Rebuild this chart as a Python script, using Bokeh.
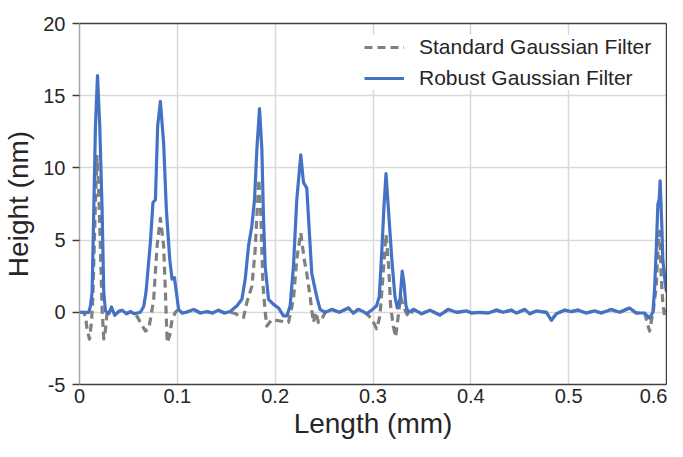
from bokeh.plotting import figure
from bokeh.models import LinearAxis, FixedTicker, Legend, LegendItem, Range1d
from bokeh.embed import file_html
from bokeh.resources import INLINE

# ---- data ----
x_ticks = [0, 0.1, 0.2, 0.3, 0.4, 0.5, 0.6]
x_tick_labels = ["0", "0.1", "0.2", "0.3", "0.4", "0.5", "0.6"]
y_ticks = [-5, 0, 5, 10, 15, 20]
y_tick_labels = ["-5", "0", "5", "10", "15", "20"]

robust_x = [0, .004, .0095, .0112, .0129, .0146, .0163, .0184, .0207, .0231, .0248, .0265, .03, .0327, .036, .04,
            .0435, .048, .052, .056, .059, .0622, .0656, .068, .0724, .0751, .0776, .0799, .0827, .086, .0888, .0922,
            .0946, .097, .099, .1013, .105, .109, .1167, .1235, .13, .136, .142, .148, .154, .161, .166, .1694, .1728,
            .1762, .1789, .1813, .184, .1864, .188, .1898, .1932, .1983, .2034, .2085, .212, .2153, .2187, .2221, .2262,
            .2289, .2323, .235, .2374, .2408, .2432, .2459, .251, .258, .2657, .2748, .28, .285, .29, .2935, .2987,
            .3037, .3064, .3089, .3112, .3133, .3156, .319, .3224, .3248, .3276, .3299, .3316, .3337, .336, .3415,
            .3497, .3582, .3684, .3769, .3854, .3956, .4007, .409, .4177, .4262, .433, .4415, .4466, .4551, .4602,
            .467, .4772, .4823, .4874, .4959, .5027, .5095, .518, .5265, .5333, .5435, .552, .5622, .569, .5776,
            .5827, .5861, .5878, .5895, .5912, .5925, .5935, .5952, .5962, .5986, .6]
robust_y = [0, 0, 0, .45, 1.4, 7.1, 12.9, 16.4, 12.9, 7.1, 1.4, .1, -.1, .35, -.2, .05,
            .15, -.1, .05, -.1, -.05, 0, .4, 1.4, 4.8, 7.6, 7.8, 12.9, 14.6, 11.7, 7.1, 3.7,
            2.3, 2.4, 1.4, .2, -.05, 0, .2, -.05, .05, -.05, .15, -.05, .05, .45, .9, 2.3, 4.6,
            6.0, 7.8, 11.3, 14.1, 11.3, 6.7, 3.2, .9, .55, .3, -.25, -.25, .45, 3.2, 7.8, 10.9,
            9.0, 8.6, 5.5, 2.7, 1.6, .9, .2, 0, .2, 0, .3, -.05, .2, .05, -.1, .15,
            .45, 1.1, 4.1, 7.3, 9.6, 7.3, 3.9, 1.1, .3, .9, 2.85, 2.05, .45, 0, .2,
            -.1, .15, -.2, .2, 0, .1, -.05, 0, -.05, .15, 0, .15, -.05, .2, -.1,
            .1, 0, -.55, -.1, .15, .05, .15, -.05, .1, -.05, .2, 0, .3, -.05, -.05,
            -.4, 0, 1.6, 4.3, 7.5, 7.8, 9.1, 6.0, 3.7, 2.05, 1.4]

standard_x = [0, .004, .0061, .0078, .0102, .0122, .0136, .0146, .0165, .018, .0195, .0207, .0231, .0248, .0265, .0282,
              .03, .0327, .036, .04, .0435, .048, .052, .056, .059, .0622, .0673, .0707, .0735, .0758, .0793, .0827,
              .086, .0878, .0896, .0922, .0946, .098, .1013, .105, .109, .1167, .1235, .13, .136, .142, .148, .154,
              .16, .1643, .1677, .1711, .1762, .1796, .1813, .1833, .1854, .1874, .1898, .1915, .1966, .2051, .2136,
              .2187, .2221, .2262, .2296, .2323, .2357, .239, .2418, .2442, .2476, .251, .258, .2657, .2748, .28,
              .285, .29, .2935, .2987, .3037, .3071, .3105, .3133, .316, .318, .3207, .3231, .3258, .3282, .3309,
              .3343, .337, .3415, .3497, .3582, .3684, .3769, .3854, .3956, .4007, .409, .4177, .4262, .433, .4415,
              .4466, .4551, .4602, .467, .4772, .4823, .4874, .4959, .5027, .5095, .518, .5265, .5333, .5435, .552,
              .5622, .569, .5776, .5827, .5843, .5867, .5895, .5921, .5929, .5946, .5962, .598, .6]
standard_y = [0, 0, -.25, -1.2, -1.85, -.7, .9, 3.5, 8.0, 10.8, 8.5, 6.0, .2, -1.85, -1.2, 0,
              -.1, .35, -.2, .05, .15, -.1, .05, -.1, -.3, -.7, -1.3, -1.15, -.1, .9, 4.6, 6.5,
              4.6, 1.4, -2.1, -1.6, -.5, 0, .2, -.05, 0, .2, -.05, .05, -.05, .15, -.05, 0,
              -.1, -.35, -.35, .7, 1.8, 4.35, 6.65, 9.2, 6.65, 2.05, 0, -.95, -.5, -.6, -.7,
              .9, 3.7, 5.5, 3.7, 2.7, 1.1, -.7, 0, -.7, -.5, 0, .2, 0, .3, -.05,
              .2, .05, -.1, -.45, -1.15, -.25, 2.75, 5.4, 3.2, .45, -.95, -1.7, -.25, 1.1, .45,
              -.1, -.3, .2, -.1, .15, -.2, .2, 0, .1, -.05, 0, -.05, .15, 0, .15,
              -.05, .2, -.1, .1, 0, -.55, -.1, .15, .05, .15, -.05, .1, -.05, .2, 0,
              .3, -.05, -.05, -1.3, -.7, .2, 1.8, 5.3, 5.6, 2.5, .65, -.25, .2]

series_labels = ["Standard Gaussian Filter", "Robust Gaussian Filter"]

FONT = "Liberation Sans"
TXT = "#262626"
DARK = "#404040"

p = figure(width=667, height=441, x_range=Range1d(0, 0.6), y_range=Range1d(-5, 20),
           output_backend="svg", toolbar_location=None,
           min_border_left=79, min_border_right=1, min_border_top=23, min_border_bottom=56)
p.outline_line_color = None
p.background_fill_color = "white"
p.border_fill_color = "white"

g_std = p.line(standard_x, standard_y, line_color="#808080", line_width=3.2, line_dash="8 5", line_join="round")
g_rob = p.line(robust_x, robust_y, line_color="#4472C4", line_width=3.2, line_join="round")

# grids
for g in (p.xgrid, p.ygrid):
    g.grid_line_color = "#d9d9d9"
    g.grid_line_width = 1.5
p.xgrid.ticker = FixedTicker(ticks=x_ticks)
p.ygrid.ticker = FixedTicker(ticks=y_ticks)

# bottom axis
xa = p.xaxis[0]
xa.ticker = FixedTicker(ticks=x_ticks)
xa.major_label_overrides = dict(zip(x_ticks, x_tick_labels))
xa.major_tick_out = 0
xa.major_tick_in = 0
xa.minor_tick_line_color = None
xa.axis_line_color = DARK
xa.axis_line_width = 1.5
xa.major_label_text_font = FONT
xa.major_label_text_font_size = "20px"
xa.major_label_text_color = TXT
xa.major_label_standoff = 4
xa.axis_label = "Length (mm)"
xa.axis_label_text_font = FONT
xa.axis_label_text_font_size = "28px"
xa.axis_label_text_font_style = "normal"
xa.axis_label_text_color = TXT
xa.axis_label_standoff = 2

# left axis
ya = p.yaxis[0]
ya.ticker = FixedTicker(ticks=y_ticks)
ya.major_label_overrides = dict(zip(y_ticks, y_tick_labels))
ya.major_tick_out = 7
ya.major_tick_in = 0
ya.major_tick_line_color = DARK
ya.major_tick_line_width = 1.5
ya.minor_tick_line_color = None
ya.axis_line_color = "#a6a6a6"
ya.axis_line_width = 1.5
ya.major_label_text_font = FONT
ya.major_label_text_font_size = "20px"
ya.major_label_text_color = TXT
ya.major_label_standoff = 7
ya.axis_label = "Height (nm)"
ya.axis_label_text_font = FONT
ya.axis_label_text_font_size = "28px"
ya.axis_label_text_font_style = "normal"
ya.axis_label_text_color = TXT
ya.axis_label_standoff = 6

# frame lines on top and right
for side in ("right", "above"):
    ax = LinearAxis(ticker=FixedTicker(ticks=[]), major_tick_line_color=None, minor_tick_line_color=None,
                    major_label_text_font_size="0px", axis_line_color=DARK, axis_line_width=1.5,
                    major_tick_out=0, major_tick_in=0, major_label_standoff=0)
    p.add_layout(ax, side)

legend = Legend(items=[LegendItem(label=series_labels[0], renderers=[g_std]),
                       LegendItem(label=series_labels[1], renderers=[g_rob])],
                location=(285, 294), padding=2, spacing=7, margin=0,
                glyph_width=40, glyph_height=24, label_height=24, label_standoff=15,
                label_text_font=FONT, label_text_font_size="21px", label_text_color=TXT,
                border_line_color=None, background_fill_color="white", background_fill_alpha=1.0)
p.add_layout(legend)

open("out.html", "w").write(file_html(p, INLINE))
